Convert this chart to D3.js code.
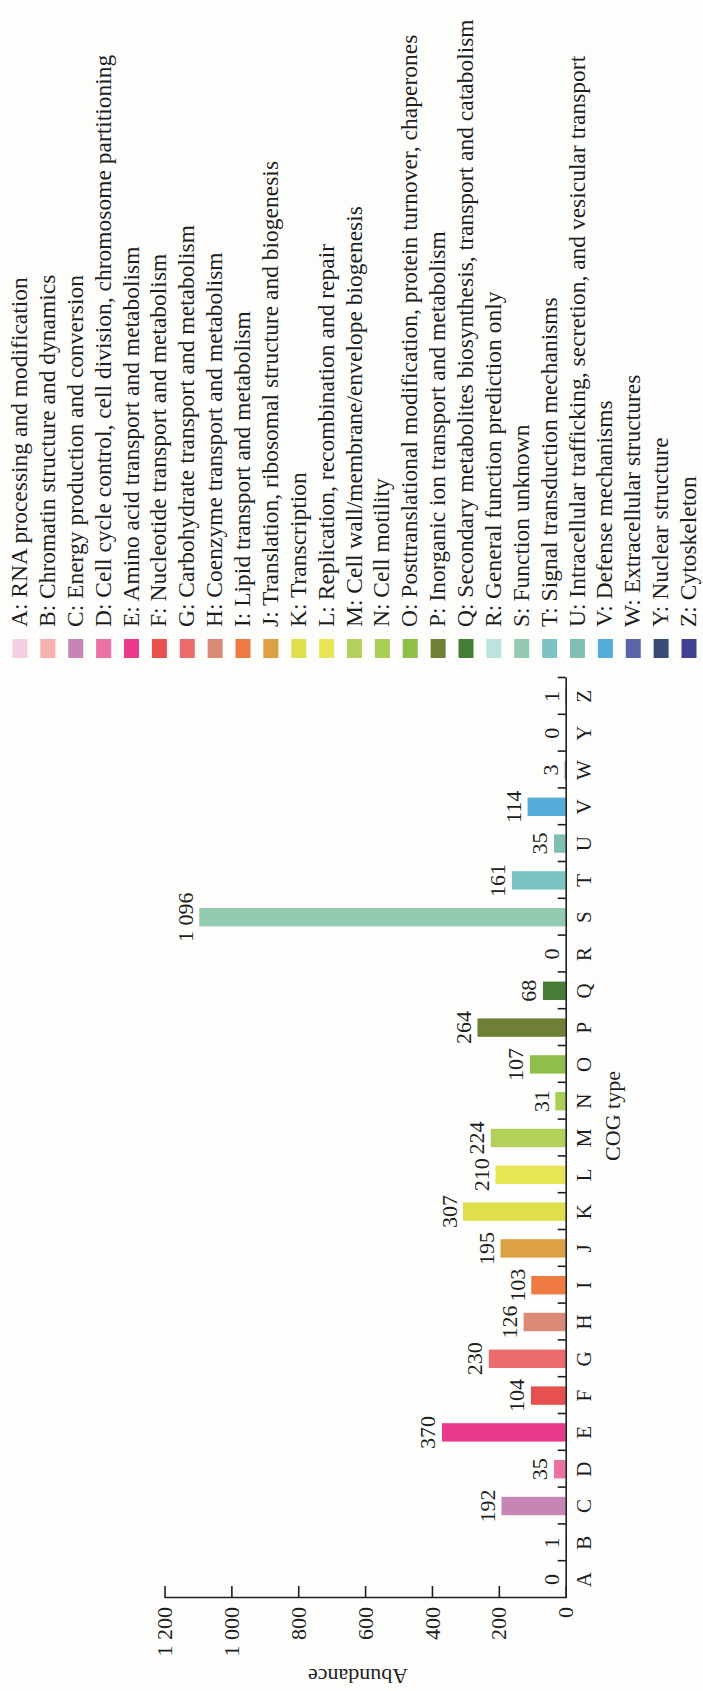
<!DOCTYPE html>
<html>
<head>
<meta charset="utf-8">
<script src="https://cdn.jsdelivr.net/npm/d3@7"></script>
<style>
  html, body { margin: 0; padding: 0; background: #fdfdfc; }
  svg { display: block; }
  text { font-family: "Liberation Serif", "Times New Roman", serif; fill: #1e1e1e; }
</style>
</head>
<body>
<div id="chart"></div>
<script>
// COG functional categories and gene counts
const categories = ["A","B","C","D","E","F","G","H","I","J","K","L","M","N","O","P","Q","R","S","T","U","V","W","Y","Z"];
const abundance  = [0, 1, 192, 35, 370, 104, 230, 126, 103, 195, 307, 210, 224, 31, 107, 264, 68, 0, 1096, 161, 35, 114, 3, 0, 1];
const descriptions = [
  "RNA processing and modification",
  "Chromatin structure and dynamics",
  "Energy production and conversion",
  "Cell cycle control, cell division, chromosome partitioning",
  "Amino acid transport and metabolism",
  "Nucleotide transport and metabolism",
  "Carbohydrate transport and metabolism",
  "Coenzyme transport and metabolism",
  "Lipid transport and metabolism",
  "Translation, ribosomal structure and biogenesis",
  "Transcription",
  "Replication, recombination and repair",
  "Cell wall/membrane/envelope biogenesis",
  "Cell motility",
  "Posttranslational modification, protein turnover, chaperones",
  "Inorganic ion transport and metabolism",
  "Secondary metabolites biosynthesis, transport and catabolism",
  "General function prediction only",
  "Function unknown",
  "Signal transduction mechanisms",
  "Intracellular trafficking, secretion, and vesicular transport",
  "Defense mechanisms",
  "Extracellular structures",
  "Nuclear structure",
  "Cytoskeleton"
];
const palette = ["#f5d0e3","#f7b0b0","#c586b5","#ec72a4","#e9398a","#e8504f","#ec6b6b","#dc8a78","#ef7b43","#dea044",
                 "#dde04a","#e9e655","#b5cf5b","#a9cf55","#8fbf4a","#6e7f36","#457c36","#bde2df","#93cbb0","#7cc4c4",
                 "#80c0b4","#56acd9","#5b64a5","#3a4a77","#3e4290"];
const yTicks = [0, 200, 400, 600, 800, 1000, 1200];
const xTitle = "COG type";
const yTitle = "Abundance";

// The figure is laid out landscape (1691 x 703) and turned a quarter turn onto the page.
const pageW = 703, pageH = 1691;

const fmt = d3.formatLocale({ decimal: ".", thousands: " ", grouping: [3], currency: ["", ""] }).format(",");

const svg = d3.select("#chart").append("svg")
  .attr("width", pageW).attr("height", pageH);

const g = svg.append("g")
  .attr("transform", `translate(0,${pageH}) rotate(-90)`);

const plot = { left: 93, right: 1013, top: 164.5, bottom: 565.7 };

const x = d3.scaleBand()
  .domain(categories)
  .range([plot.left, plot.right])
  .paddingInner(0.5)
  .paddingOuter(0.25);

const y = d3.scaleLinear()
  .domain([0, 1200])
  .range([plot.bottom, plot.top]);

const color = d3.scaleOrdinal().domain(categories).range(palette);

// Bars
g.append("g").selectAll("rect")
  .data(categories)
  .join("rect")
  .attr("x", (d) => x(d))
  .attr("width", x.bandwidth())
  .attr("y", (d, i) => y(abundance[i]))
  .attr("height", (d, i) => y(0) - y(abundance[i]))
  .attr("fill", (d) => color(d));

// Value labels above bars
g.append("g").selectAll("text")
  .data(categories)
  .join("text")
  .attr("x", (d) => x(d) + x.bandwidth() / 2)
  .attr("y", (d, i) => y(abundance[i]) - 6.5)
  .attr("text-anchor", "middle")
  .attr("font-size", 22)
  .text((d, i) => fmt(abundance[i]));

// Category axis
const xAxis = g.append("g")
  .attr("transform", `translate(0,${plot.bottom})`)
  .call(d3.axisBottom(x).tickSize(0).tickPadding(10.5));
xAxis.select(".domain").attr("stroke", "#1e1e1e").attr("stroke-width", 1.6);
xAxis.selectAll("text").attr("font-size", 21).attr("font-family", null).attr("fill", null);

// Separator ticks between categories, pointing into the plot
const bounds = d3.range(1, categories.length + 1).map((i) => x.range()[0] + i * x.step());
const xSep = d3.scaleLinear().domain([plot.left, plot.right]).range([plot.left, plot.right]);
const sepAxis = g.append("g")
  .attr("transform", `translate(0,${plot.bottom})`)
  .call(d3.axisBottom(xSep).tickValues(bounds).tickSizeInner(-8).tickSizeOuter(0).tickFormat(""));
sepAxis.select(".domain").remove();
sepAxis.selectAll("line").attr("stroke", "#1e1e1e").attr("stroke-width", 1.6);

// Abundance axis
const yAxis = g.append("g")
  .attr("transform", `translate(${plot.left},0)`)
  .call(d3.axisLeft(y).tickValues(yTicks).tickSizeInner(-12).tickSizeOuter(0).tickPadding(9).tickFormat(fmt));
yAxis.select(".domain").attr("stroke", "#1e1e1e").attr("stroke-width", 1.6);
yAxis.selectAll("line").attr("stroke", "#1e1e1e").attr("stroke-width", 1.6);
yAxis.selectAll("text").attr("font-size", 22).attr("font-family", null).attr("fill", null);

// Axis titles
g.append("text")
  .attr("x", 575)
  .attr("y", 620)
  .attr("text-anchor", "middle")
  .attr("font-size", 22)
  .text(xTitle);

g.append("text")
  .attr("transform", `translate(22,358) rotate(-90)`)
  .attr("text-anchor", "middle")
  .attr("font-size", 22)
  .text(yTitle);

// Legend
const legendRow = d3.scalePoint().domain(categories).range([20, 689]);
const legend = g.append("g").selectAll("g")
  .data(categories)
  .join("g")
  .attr("transform", (d) => `translate(1033,${legendRow(d)})`);

legend.append("rect")
  .attr("x", 0).attr("y", -7.5)
  .attr("width", 19).attr("height", 15)
  .attr("fill", (d) => color(d));

legend.append("text")
  .attr("x", 31)
  .attr("dy", "0.3em")
  .attr("font-size", 23.5)
  .text((d, i) => `${d}: ${descriptions[i]}`);
</script>
</body>
</html>
